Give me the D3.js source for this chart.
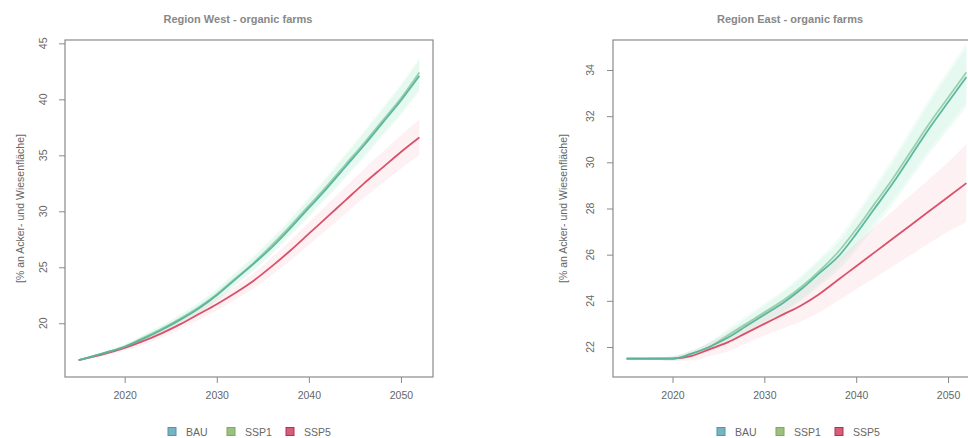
<!DOCTYPE html>
<html>
<head>
<meta charset="utf-8">
<script src="https://cdn.jsdelivr.net/npm/d3@7"></script>
<style>
  body { margin: 0; background: #fff; }
  text { font-family: "Liberation Sans", Arial, sans-serif; fill: #666; }
</style>
</head>
<body>
<div id="chart"></div>
<script>
/* Organic farm share, West vs East, three scenarios */

// Years shared by every series
const years = [2015, 2018, 2020, 2022, 2024, 2026, 2028, 2030, 2032, 2034, 2036, 2038, 2040, 2042, 2044, 2046, 2048, 2050, 2052];

// Region West
const westBAU  = [16.7, 17.4, 17.9, 18.6, 19.4, 20.3, 21.3, 22.5, 23.9, 25.3, 26.8, 28.5, 30.3, 32.1, 34.0, 35.9, 37.9, 39.9, 42.1];
const westSSP1 = [16.7, 17.4, 17.9, 18.7, 19.5, 20.4, 21.4, 22.6, 24.0, 25.4, 27.0, 28.7, 30.5, 32.3, 34.2, 36.1, 38.1, 40.1, 42.4];
const westSSP5 = [16.7, 17.3, 17.8, 18.4, 19.1, 19.9, 20.8, 21.7, 22.7, 23.8, 25.1, 26.5, 28.0, 29.5, 31.0, 32.5, 33.9, 35.3, 36.6];
// half width of the uncertainty bands
const westSpreadGreen = [0, 0.1, 0.2, 0.3, 0.35, 0.4, 0.45, 0.5, 0.55, 0.6, 0.65, 0.7, 0.8, 0.9, 1.0, 1.1, 1.2, 1.3, 1.4];
const westSpreadRed   = [0, 0.15, 0.25, 0.35, 0.4, 0.45, 0.5, 0.55, 0.6, 0.7, 0.8, 0.9, 1.0, 1.1, 1.2, 1.3, 1.4, 1.5, 1.6];

// Region East
const eastBAU  = [21.5, 21.5, 21.5, 21.7, 22.0, 22.4, 22.9, 23.4, 23.9, 24.5, 25.2, 25.9, 26.9, 28.0, 29.1, 30.3, 31.5, 32.6, 33.7];
const eastSSP1 = [21.5, 21.5, 21.5, 21.7, 22.0, 22.5, 23.0, 23.5, 24.0, 24.6, 25.3, 26.1, 27.1, 28.2, 29.3, 30.5, 31.7, 32.8, 33.9];
const eastSSP5 = [21.5, 21.5, 21.5, 21.6, 21.9, 22.2, 22.6, 23.0, 23.4, 23.8, 24.3, 24.9, 25.5, 26.1, 26.7, 27.3, 27.9, 28.5, 29.1];
const eastSpreadGreen = [0, 0.05, 0.1, 0.15, 0.2, 0.3, 0.35, 0.4, 0.45, 0.5, 0.55, 0.6, 0.7, 0.8, 0.9, 1.0, 1.1, 1.2, 1.3];
const eastSpreadRed   = [0, 0.05, 0.1, 0.2, 0.3, 0.4, 0.45, 0.5, 0.6, 0.7, 0.8, 0.9, 1.0, 1.1, 1.2, 1.3, 1.4, 1.5, 1.7];

const scenarios = ["BAU", "SSP1", "SSP5"];
const xTicks = [2020, 2030, 2040, 2050];
const westTicks = [20, 25, 30, 35, 40, 45];
const eastTicks = [22, 24, 26, 28, 30, 32, 34];
const yTitle = "[% an Acker- und Wiesenfläche]";

const lineColors = { BAU: "#55b39c", SSP1: "#79c08f", SSP5: "#d64a62" };
const legendColors = { BAU: "#4a9aab", SSP1: "#7aab55", SSP5: "#c42a4f" };

const width = 968, height = 438;

let svg = d3.select("#chart")
    .append("svg")
    .attr("width", width)
    .attr("height", height);

const panels = [
    { title: "Region West - organic farms", left: 65, right: 433, titleX: 238, yLabelX: 20, tickLabelX: 43,
      domain: [15.2, 45.3], ticks: westTicks, series: [westBAU, westSSP1, westSSP5],
      spreads: [westSpreadGreen, westSpreadGreen, westSpreadRed], legendX: 168 },
    { title: "Region East - organic farms", left: 613, right: 980, titleX: 790, yLabelX: 563, tickLabelX: 590,
      domain: [20.7, 35.3], ticks: eastTicks, series: [eastBAU, eastSSP1, eastSSP5],
      spreads: [eastSpreadGreen, eastSpreadGreen, eastSpreadRed], legendX: 717 }
];

const plotTop = 40, plotBottom = 377;

for (let p of panels) {
    let x = d3.scaleLinear().domain([2013.52, 2053.48]).range([p.left, p.right]);
    let y = d3.scaleLinear().domain(p.domain).range([plotBottom, plotTop]);

    let g = svg.append("g");

    // bands first, then lines on top
    const bandFill = ["#7fe0c0", "#9ff0c8", "#f7a8b8"];
    p.series.forEach((vals, i) => {
        let rows = years.map((yr, k) => ({ yr, v: vals[k], s: p.spreads[i][k] }));
        let area = d3.area()
            .x(d => x(d.yr))
            .y0(d => y(d.v - d.s))
            .y1(d => y(d.v + d.s))
            .curve(d3.curveMonotoneX);
        g.append("path")
            .datum(rows)
            .attr("d", area)
            .attr("fill", bandFill[i])
            .attr("fill-opacity", i === 2 ? 0.16 : 0.12);
    });

    // draw SSP5 then SSP1 then BAU so greens sit on top
    [2, 1, 0].forEach(i => {
        let rows = years.map((yr, k) => ({ yr, v: p.series[i][k] }));
        let line = d3.line()
            .x(d => x(d.yr))
            .y(d => y(d.v))
            .curve(d3.curveMonotoneX);
        g.append("path")
            .datum(rows)
            .attr("d", line)
            .attr("fill", "none")
            .attr("stroke", lineColors[scenarios[i]])
            .attr("stroke-width", 1.8)
            .attr("stroke-opacity", i === 1 ? 0.7 : 0.95);
    });

    // box around the plot
    g.append("rect")
        .attr("x", p.left).attr("y", plotTop)
        .attr("width", p.right - p.left).attr("height", plotBottom - plotTop)
        .attr("fill", "none").attr("stroke", "#8a8a8a").attr("stroke-width", 1.2);

    // x axis
    let xAxis = g.append("g")
        .attr("transform", `translate(0,${plotBottom})`)
        .call(d3.axisBottom(x).tickValues(xTicks).tickFormat(d3.format("d")).tickSize(6).tickPadding(9));
    xAxis.select(".domain").remove();
    xAxis.selectAll("line").attr("stroke", "#8a8a8a");
    xAxis.selectAll("text").attr("font-size", 10.5).attr("fill", "#666")
        .attr("font-family", "Liberation Sans, Arial, sans-serif");

    // y axis, labels rotated like base R
    let yAxis = g.append("g")
        .attr("transform", `translate(${p.left},0)`)
        .call(d3.axisLeft(y).tickValues(p.ticks).tickSize(6).tickFormat(""));
    yAxis.select(".domain").remove();
    yAxis.selectAll("line").attr("stroke", "#8a8a8a");

    g.selectAll(".ylab")
        .data(p.ticks)
        .join("text")
        .attr("class", "ylab")
        .attr("transform", d => `translate(${p.tickLabelX},${y(d)}) rotate(-90)`)
        .attr("text-anchor", "middle")
        .attr("dy", "0.35em")
        .attr("font-size", 10.5)
        .text(d => d);

    g.append("text")
        .attr("transform", `translate(${p.yLabelX},${(plotTop + plotBottom) / 2}) rotate(-90)`)
        .attr("text-anchor", "middle")
        .attr("dy", "0.35em")
        .attr("font-size", 10.5)
        .text(yTitle);

    g.append("text")
        .attr("x", p.titleX)
        .attr("y", 23)
        .attr("text-anchor", "middle")
        .attr("font-size", 11)
        .attr("font-weight", "bold")
        .style("fill", "#888")
        .text(p.title);

    // legend
    let leg = g.selectAll(".leg")
        .data(scenarios)
        .join("g")
        .attr("class", "leg")
        .attr("transform", (d, i) => `translate(${p.legendX + i * 59},432)`);
    leg.append("rect")
        .attr("x", 0).attr("y", -4.5)
        .attr("width", 8).attr("height", 8)
        .attr("fill", d => legendColors[d])
        .attr("fill-opacity", 0.75)
        .attr("stroke", d => legendColors[d]);
    leg.append("text")
        .attr("x", 18)
        .attr("dy", "0.35em")
        .attr("font-size", 10.5)
        .text(d => d);
}
</script>
</body>
</html>
